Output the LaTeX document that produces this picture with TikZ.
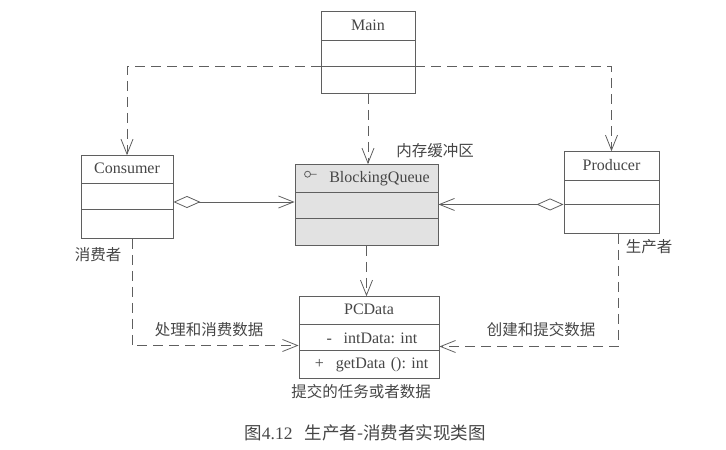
\documentclass[tikz,border=0pt]{standalone}
\usepackage{fontspec}
\setmainfont{Liberation Serif}
\newfontfamily\cjk{Noto Sans CJK SC}
\usetikzlibrary{shapes.multipart,arrows.meta,positioning}
\definecolor{linegray}{RGB}{95,95,95}
\definecolor{txtgray}{RGB}{70,70,70}
\definecolor{queuefill}{RGB}{226,226,226}
\newcommand{\rowstrut}[2]{\rule[-#1pt]{0pt}{#2pt}}
\frenchspacing

\begin{document}
\begin{tikzpicture}[x=1pt,y=-1pt,
  every node/.style={text=txtgray},
  umlclass/.style={draw=linegray, line width=0.9pt, fill=white, rectangle split, rectangle split parts=3,
    text width=#1, inner xsep=0pt, inner ysep=0pt, align=center, font=\fontsize{16}{18}\selectfont},
  dep/.style={draw=linegray, line width=0.8pt, dash pattern=on 10pt off 6pt, -{Straight Barb[length=15pt,width=12pt]}},
  agg/.style={draw=linegray, line width=0.8pt, {Diamond[open,length=27pt,width=12pt]}-{Straight Barb[length=15pt,width=12pt]}},
  lbl/.style={font=\cjk\fontsize{15.5}{18}\selectfont}]
\useasboundingbox (0,0) rectangle (726,450);

% classes
\node[umlclass=94pt] (Main) at (368,52.5) {\rowstrut{10}{28}Main \nodepart{two}\rowstrut{0}{25} \nodepart{three}\rowstrut{0}{26}};
\node[umlclass=92pt] (Consumer) at (127,197) {\rowstrut{10}{27}Consumer \nodepart{two}\rowstrut{0}{25} \nodepart{three}\rowstrut{0}{28}};
\node[umlclass=143pt, fill=queuefill] (BlockingQueue) at (366.5,205) {\rowstrut{10}{27}\hspace*{26pt}BlockingQueue \nodepart{two}\rowstrut{0}{25} \nodepart{three}\rowstrut{0}{26}};
\node[umlclass=95pt] (Producer) at (611.5,192.5) {\rowstrut{10}{28}Producer \nodepart{two}\rowstrut{0}{23} \nodepart{three}\rowstrut{0}{28}};
\node[umlclass=140pt] (PCData) at (369,337.5) {\rowstrut{10}{27}PCData
  \nodepart{two}\raggedright\rowstrut{7}{25}\hspace*{6pt}\makebox[17pt][l]{-}intData: int
  \nodepart{three}\raggedright\rowstrut{9}{27}\hspace*{5pt}\makebox[21pt][l]{+}getData (): int};

% interface mark
\draw[draw=linegray, line width=0.8pt] ([shift={(13,10)}]BlockingQueue.north west) circle (3pt) ++(3,0) -- ++(6,0);

% connectors
\draw[dep] (Main.two split west) -| (Consumer.north);
\draw[dep] (Main.two split east) -| (Producer.north);
\draw[dep] (Main.south) -- (Main.south |- BlockingQueue.north);
\draw[dep] (BlockingQueue.south) -- (BlockingQueue.south |- PCData.north);
\draw[agg] ([yshift=-5pt]Consumer.east) -- ([yshift=-5pt]Consumer.east -| BlockingQueue.west);
\draw[agg] (Producer.two split west) -- (Producer.two split west -| BlockingQueue.east);
\draw[dep] ([xshift=5pt]Consumer.south) |- ([yshift=-8pt]PCData.west);
\draw[dep] ([xshift=7pt]Producer.south) |- ([yshift=-9pt]PCData.east);

% labels
\node[lbl] (bufLabel) at (435,151) {内存缓冲区};
\node[lbl] (consLabel) at (98,255) {消费者};
\node[lbl] (prodLabel) at (649,247) {生产者};
\node[lbl] (consumeLabel) at (209,330) {处理和消费数据};
\node[lbl] (createLabel) at (541,330) {创建和提交数据};
\node[lbl] (dataLabel) at (361,392) {提交的任务或者数据};
\node[font=\fontsize{17.5}{20}\selectfont] (caption) at (365,433) {{\cjk 图}4.12\hspace{12pt}{\cjk 生产者-消费者实现类图}};
\end{tikzpicture}
\end{document}
